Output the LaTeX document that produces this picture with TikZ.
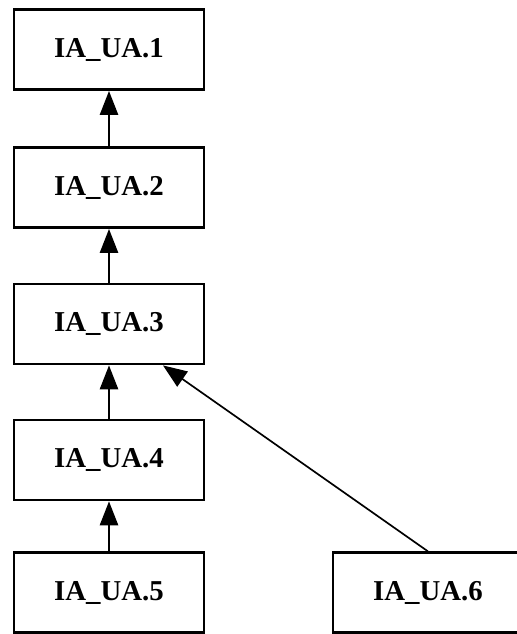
\documentclass[tikz,border=0pt]{standalone}
\usepackage{fontspec}
\setmainfont{Liberation Serif}
\usepackage{tikz}
\usetikzlibrary{arrows.meta}

\begin{document}
\begin{tikzpicture}[
  box/.style={draw,rectangle,minimum width=4.75cm,minimum height=2cm,
              line width=2pt,inner sep=0pt,
              font=\fontsize{20.5}{24}\selectfont\bfseries},
  arr/.style={-{Triangle[length=17pt,width=13pt]},line width=1.2pt}
]
\useasboundingbox (0,0) rectangle (12.9,-15.85);

%% Left column -- 3.41cm pitch
\node[box] (ua1) at (2.725, -1.24) {IA\_UA.1};
\node[box] (ua2) at (2.725, -4.69) {IA\_UA.2};
\node[box] (ua3) at (2.725, -8.10) {IA\_UA.3};
\node[box] (ua4) at (2.725,-11.50) {IA\_UA.4};
\node[box] (ua5) at (2.725,-14.82) {IA\_UA.5};

%% Bottom right, runs off the edge
\node[box] (ua6) at (10.7,-14.82) {IA\_UA.6};

%% Chain upwards
\draw[arr] (ua2.north) -- (ua1.south);
\draw[arr] (ua3.north) -- (ua2.south);
\draw[arr] (ua4.north) -- (ua3.south);
\draw[arr] (ua5.north) -- (ua4.south);

%% Diagonal link
\draw[arr] (ua6.north) -- ([xshift=1.35cm]ua3.south);
\end{tikzpicture}
\end{document}
